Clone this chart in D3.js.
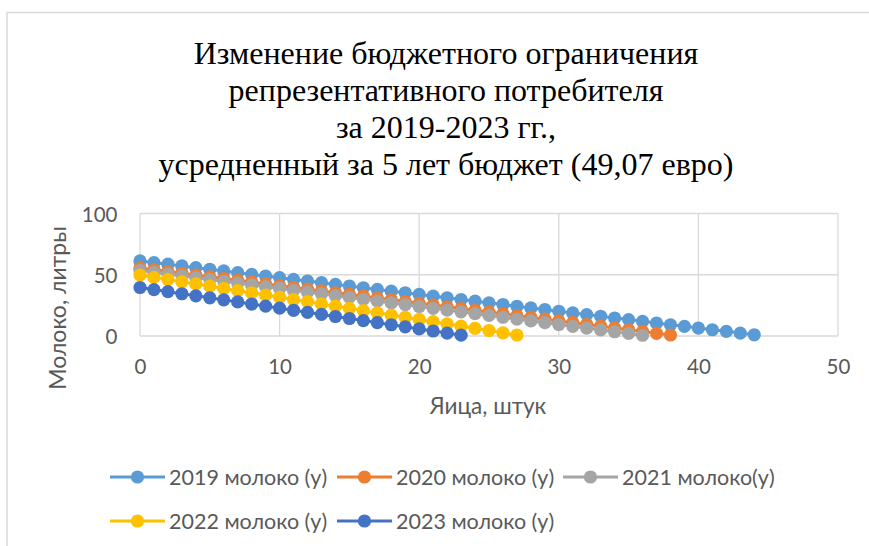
<!DOCTYPE html>
<html>
<head>
<meta charset="utf-8">
<script src="https://cdn.jsdelivr.net/npm/d3@7"></script>
<style>
  body { margin: 0; background: #fff; }
  svg { display: block; }
</style>
</head>
<body>
<script>
// milk (y) vs eggs (x), one value per egg count 0,1,2,...
var milk2019 = [61.3, 59.9, 58.6, 57.2, 55.8, 54.5, 53.1, 51.7, 50.3, 49.0,
                47.6, 46.2, 44.9, 43.5, 42.1, 40.8, 39.4, 38.0, 36.6, 35.3,
                33.9, 32.5, 31.2, 29.8, 28.4, 27.1, 25.7, 24.3, 22.9, 21.6,
                20.2, 18.8, 17.5, 16.1, 14.7, 13.4, 12.0, 10.6, 9.2, 7.9,
                6.5, 5.1, 3.8, 2.4, 1.0];
var milk2020 = [55.5, 54.1, 52.6, 51.2, 49.7, 48.3, 46.9, 45.4, 44.0, 42.5,
                41.1, 39.7, 38.2, 36.8, 35.3, 33.9, 32.5, 31.0, 29.6, 28.1,
                26.7, 25.3, 23.8, 22.4, 20.9, 19.5, 18.1, 16.6, 15.2, 13.7,
                12.3, 10.9, 9.4, 8.0, 6.5, 5.1, 3.7, 2.2, 0.8];
var milk2021 = [53.5, 52.0, 50.6, 49.1, 47.6, 46.2, 44.7, 43.2, 41.7, 40.3,
                38.8, 37.3, 35.9, 34.4, 32.9, 31.5, 30.0, 28.5, 27.0, 25.6,
                24.1, 22.6, 21.2, 19.7, 18.2, 16.8, 15.3, 13.8, 12.3, 10.9,
                9.4, 7.9, 6.5, 5.0, 3.5, 2.1, 0.6];
var milk2022 = [49.7, 47.9, 46.1, 44.3, 42.5, 40.7, 38.8, 37.0, 35.2, 33.4,
                31.6, 29.8, 28.0, 26.2, 24.4, 22.6, 20.7, 18.9, 17.1, 15.3,
                13.5, 11.7, 9.9, 8.1, 6.3, 4.5, 2.6, 0.8];
var milk2023 = [39.6, 37.9, 36.2, 34.5, 32.8, 31.2, 29.5, 27.8, 26.1, 24.4,
                22.7, 21.0, 19.3, 17.6, 15.9, 14.3, 12.6, 10.9, 9.2, 7.5,
                5.8, 4.1, 2.4, 0.7];

var seriesNames = ["2019 молоко (y)", "2020 молоко (y)", "2021 молоко(y)", "2022 молоко (y)", "2023 молоко (y)"];
var seriesValues = [milk2019, milk2020, milk2021, milk2022, milk2023];
var colors = ["#5B9BD5", "#ED7D31", "#A5A5A5", "#FFC000", "#4472C4"];

var xTicks = [0, 10, 20, 30, 40, 50];
var yTicks = [0, 50, 100];

var titleLines = ["Изменение бюджетного ограничения",
                  "репрезентативного потребителя",
                  "за 2019-2023 гг.,",
                  "усредненный за 5 лет бюджет (49,07 евро)"];

var W = 869, H = 546;
var plot = {left: 140, right: 838, top: 213.5, bottom: 336};

var svg = d3.select("body").append("svg")
    .attr("width", W)
    .attr("height", H);

// chart frame (left and top edges visible)
svg.append("path")
    .attr("d", "M7," + H + "V12.5H" + W)
    .attr("fill", "none")
    .attr("stroke", "#D9D9D9")
    .attr("stroke-width", 1.5);

svg.append("g")
    .attr("font-family", "'Liberation Serif', 'Times New Roman', serif")
    .attr("font-size", 32)
    .attr("fill", "#000")
    .attr("text-anchor", "middle")
  .selectAll("text")
    .data(titleLines)
  .enter().append("text")
    .attr("x", 446)
    .attr("y", (d, i) => 63.5 + i * 37.2)
    .text((d) => d);

var x = d3.scaleLinear().domain([0, 50]).range([plot.left, plot.right]);
var y = d3.scaleLinear().domain([0, 100]).range([plot.bottom, plot.top]);

// gridlines
var grid = svg.append("g").attr("stroke", "#D9D9D9").attr("stroke-width", 1.3);
grid.selectAll(".vx").data(xTicks).enter().append("line")
    .attr("x1", (d) => x(d)).attr("x2", (d) => x(d))
    .attr("y1", plot.top).attr("y2", plot.bottom);
grid.selectAll(".hy").data(yTicks).enter().append("line")
    .attr("x1", plot.left).attr("x2", plot.right)
    .attr("y1", (d) => y(d)).attr("y2", (d) => y(d));

var tickFont = "Lato, 'Open Sans', sans-serif";

var xAxis = svg.append("g")
    .attr("transform", "translate(0," + (plot.bottom + 31) + ")")
    .call(d3.axisBottom(x).tickValues(xTicks).tickSize(0).tickPadding(0));
var yAxis = svg.append("g")
    .attr("transform", "translate(" + (plot.left - 22.5) + ",1)")
    .call(d3.axisLeft(y).tickValues(yTicks).tickSize(0).tickPadding(0));
[xAxis, yAxis].forEach(function(a) {
  a.select(".domain").remove();
  a.selectAll("text")
      .attr("font-family", tickFont)
      .attr("font-size", 20.5)
      .attr("fill", "#595959");
});
xAxis.selectAll("text").attr("dy", "0.35em");

svg.append("text")
    .attr("x", 488)
    .attr("y", 413.5)
    .attr("text-anchor", "middle")
    .attr("font-family", tickFont)
    .attr("font-size", 22.5)
    .attr("fill", "#595959")
    .text("Яица, штук");

svg.append("text")
    .attr("transform", "translate(66,308) rotate(-90)")
    .attr("text-anchor", "middle")
    .attr("font-family", tickFont)
    .attr("font-size", 23)
    .attr("fill", "#595959")
    .text("Молоко, литры");

var line = d3.line()
    .x((d, i) => x(i))
    .y((d) => y(d));

seriesValues.forEach(function(vals, k) {
  var g = svg.append("g");
  g.append("path")
      .datum(vals)
      .attr("d", line)
      .attr("fill", "none")
      .attr("stroke", colors[k])
      .attr("stroke-width", 3);
  g.selectAll("circle")
      .data(vals)
    .enter().append("circle")
      .attr("cx", (d, i) => x(i))
      .attr("cy", (d) => y(d))
      .attr("r", 6.6)
      .attr("fill", colors[k]);
});

// legend
var legendPos = [[110, 477], [337, 477], [563, 477], [110, 521], [337, 521]];
var legend = svg.append("g").selectAll("g")
    .data(seriesNames)
  .enter().append("g")
    .attr("transform", (d, i) => "translate(" + legendPos[i][0] + "," + legendPos[i][1] + ")");
legend.append("line")
    .attr("x1", 0).attr("x2", 55)
    .attr("stroke", (d, i) => colors[i])
    .attr("stroke-width", 2.8);
legend.append("circle")
    .attr("cx", 27.5)
    .attr("r", 6.6)
    .attr("fill", (d, i) => colors[i]);
legend.append("text")
    .attr("x", 59)
    .attr("dy", "0.35em")
    .attr("font-family", tickFont)
    .attr("font-size", 21.5)
    .attr("fill", "#595959")
    .text((d) => d);
</script>
</body>
</html>
